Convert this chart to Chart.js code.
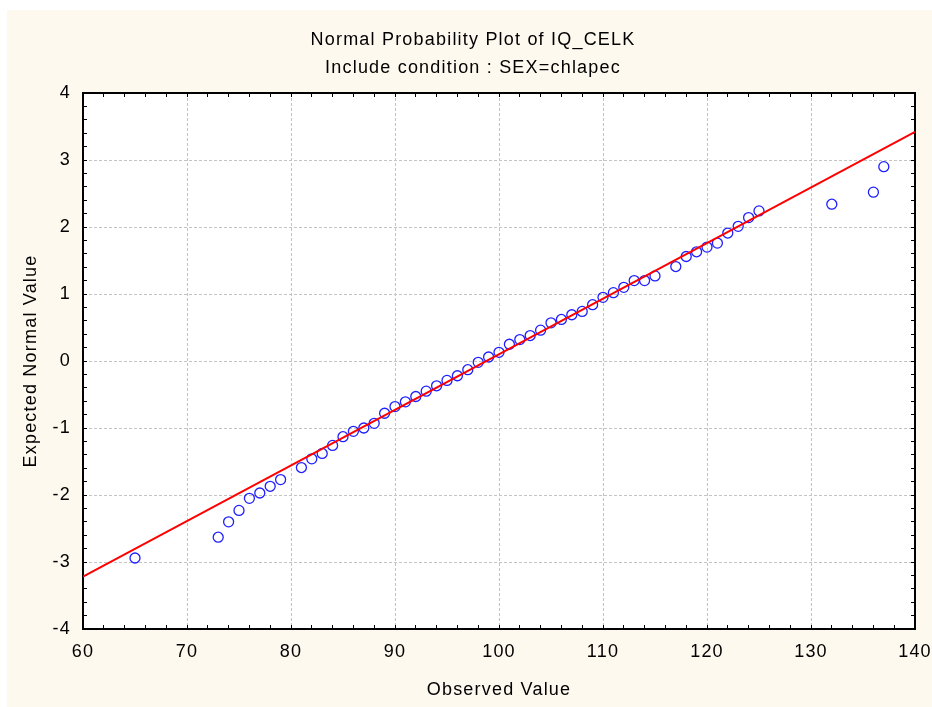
<!DOCTYPE html>
<html>
<head>
<meta charset="utf-8">
<title>Normal Probability Plot of IQ_CELK</title>
<script src="https://cdn.jsdelivr.net/npm/chart.js@4.4.1/dist/chart.umd.min.js"></script>
<style>
  html, body { margin: 0; padding: 0; background: #ffffff; }
  canvas { display: block; }
</style>
</head>
<body>
<canvas id="chart" width="932" height="707"></canvas>
<script>
// observed IQ values and their expected normal scores
const observedValues = [65, 73, 74, 75, 76, 77, 78, 79, 81, 82, 83, 84, 85, 86, 87, 88, 89, 90, 91, 92,
    93, 94, 95, 96, 97, 98, 99, 100, 101, 102, 103, 104, 105, 106, 107, 108, 109, 110, 111, 112,
    113, 114, 115, 117, 118, 119, 120, 121, 122, 123, 124, 125, 132, 136, 137];
const expectedNormal = [-2.94, -2.63, -2.40, -2.23, -2.05, -1.97, -1.87, -1.77, -1.59, -1.46, -1.38, -1.26,
    -1.13, -1.05, -1.00, -0.93, -0.78, -0.68, -0.61, -0.53, -0.45, -0.37, -0.29, -0.22, -0.13, -0.02,
    0.06, 0.13, 0.25, 0.32, 0.38, 0.46, 0.57, 0.62, 0.69, 0.74, 0.84, 0.95, 1.02, 1.10, 1.20, 1.20,
    1.27, 1.41, 1.56, 1.63, 1.70, 1.76, 1.91, 2.01, 2.14, 2.24, 2.34, 2.52, 2.90];

// reference line end points
const fitX = [60, 140];
const fitY = [-3.22, 3.42];

const xRange = [60, 140];
const yRange = [-4, 4];

const FONT = { family: '"Liberation Sans", Arial, sans-serif', size: 18, weight: 'normal' };
const GRID_GREY = '#c4c4c4';

const isWhole = v => Math.abs(v - Math.round(v)) < 1e-6;

const backdrop = {
    id: 'backdrop',
    beforeDraw(chart) {
        const { ctx, chartArea: a } = chart;
        ctx.save();
        ctx.fillStyle = '#ffffff';
        ctx.fillRect(0, 0, chart.width, chart.height);
        ctx.fillStyle = '#fef9ef';
        ctx.fillRect(7, 10, chart.width - 7, chart.height - 10);
        ctx.fillStyle = '#ffffff';
        ctx.fillRect(a.left, a.top, a.right - a.left, a.bottom - a.top);
        ctx.restore();
        ctx.letterSpacing = '1.2px';
    }
};

function frameAxis(axis, position, range, step, size) {
    return {
        type: 'linear',
        axis: axis,
        position: position,
        min: range[0],
        max: range[1],
        ticks: { display: false, stepSize: step },
        grid: { drawOnChartArea: false, tickLength: -4, tickColor: '#000000', tickWidth: 1 },
        border: { color: '#000000', width: 2 },
        afterFit(scale) {
            if (axis === 'x') scale.height = size; else scale.width = size;
        }
    };
}

new Chart(document.getElementById('chart'), {
    type: 'scatter',
    data: {
        datasets: [
            {
                label: 'fit',
                data: fitX.map((x, i) => ({ x: x, y: fitY[i] })),
                showLine: true,
                borderColor: '#ff0000',
                borderWidth: 2,
                pointRadius: 0,
                tension: 0,
                fill: false
            },
            {
                label: 'IQ_CELK',
                data: observedValues.map((x, i) => ({ x: x, y: expectedNormal[i] })),
                showLine: false,
                pointStyle: 'circle',
                pointRadius: 5,
                backgroundColor: 'rgba(0,0,0,0)',
                borderColor: '#1f1fff',
                borderWidth: 1.3
            }
        ]
    },
    options: {
        responsive: false,
        devicePixelRatio: 1,
        animation: false,
        events: [],
        layout: { padding: { left: 14, right: 0, top: 0, bottom: 0 } },
        plugins: {
            legend: { display: false },
            tooltip: { enabled: false },
            title: {
                display: true,
                text: 'Normal Probability Plot of IQ_CELK',
                color: '#000000',
                font: FONT,
                padding: { top: 29, bottom: 6 }
            },
            subtitle: {
                display: true,
                text: 'Include condition : SEX=chlapec',
                color: '#000000',
                font: FONT,
                padding: { top: 0.6, bottom: 14.2 }
            }
        },
        scales: {
            x: {
                type: 'linear',
                position: 'bottom',
                min: xRange[0],
                max: xRange[1],
                ticks: {
                    stepSize: 2,
                    autoSkip: false,
                    maxRotation: 0,
                    minRotation: 0,
                    padding: 16,
                    color: '#000000',
                    font: FONT,
                    callback: v => (isWhole(v / 10) ? String(Math.round(v)) : '')
                },
                grid: {
                    color: c => (c.tick && isWhole(c.tick.value / 10) ? GRID_GREY : 'rgba(0,0,0,0)'),
                    lineWidth: 1,
                    tickColor: '#000000',
                    tickLength: -4,
                    tickWidth: 1
                },
                border: { color: '#000000', width: 2, dash: [3, 2] },
                title: {
                    display: true,
                    text: 'Observed Value',
                    color: '#000000',
                    font: FONT,
                    padding: { top: 0, bottom: 6.2 }
                },
                afterFit(scale) {
                    scale.height = 78;
                    // the "140" label may hang past the frame, as in the original
                    scale.paddingLeft = 0;
                    scale.paddingRight = 0;
                }
            },
            y: {
                type: 'linear',
                position: 'left',
                min: yRange[0],
                max: yRange[1],
                ticks: {
                    stepSize: 0.2,
                    autoSkip: false,
                    padding: 16,
                    color: '#000000',
                    font: FONT,
                    callback: v => (isWhole(v) ? String(Math.round(v)) : '')
                },
                grid: {
                    color: c => (c.tick && isWhole(c.tick.value) ? GRID_GREY : 'rgba(0,0,0,0)'),
                    lineWidth: 1,
                    tickColor: '#000000',
                    tickLength: -4,
                    tickWidth: 1
                },
                border: { color: '#000000', width: 2, dash: [3, 2] },
                title: {
                    display: true,
                    text: 'Expected Normal Value',
                    color: '#000000',
                    font: FONT,
                    padding: { top: 6, bottom: 0 }
                },
                afterFit(scale) { scale.width = 69; }
            },
            x2: frameAxis('x', 'top', xRange, 2, 0),
            y2: frameAxis('y', 'right', yRange, 0.2, 17)
        }
    },
    plugins: [backdrop]
});
</script>
</body>
</html>
